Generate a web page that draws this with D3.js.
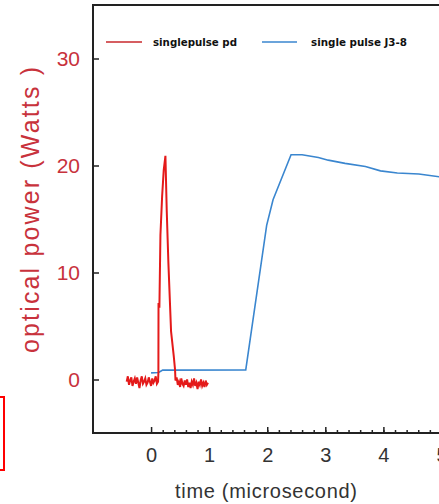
<!DOCTYPE html>
<html>
<head>
<meta charset="utf-8">
<script src="https://cdn.jsdelivr.net/npm/d3@7"></script>
<style>
  body { margin: 0; background: #fff; }
  svg { display: block; }
</style>
</head>
<body>
<div id="plot"></div>
<script>
/* data: [time (microsecond), optical power (W)] */
var pdSeries = [
  [-0.42,-0.2],[-0.40,0.3],[-0.38,-0.5],[-0.36,-0.1],[-0.34,0.2],[-0.32,-0.6],[-0.30,-0.2],
  [-0.28,0.1],[-0.26,-0.4],[-0.24,0.2],[-0.22,-0.3],[-0.20,-0.8],[-0.18,-0.1],[-0.16,0.3],
  [-0.14,-0.4],[-0.12,-0.2],[-0.10,0.1],[-0.08,-0.5],[-0.06,-0.3],[-0.04,0.2],[-0.02,-0.2],
  [0.00,-0.6],[0.02,0.1],[0.04,-0.3],[0.06,-0.1],[0.08,0.3],[0.10,-0.4],[0.12,-0.2],
  [0.126,0.6],[0.128,7.15],[0.143,6.7],[0.161,13.5],[0.19,17.1],[0.218,19.6],[0.247,20.9],
  [0.27,15.7],[0.298,10.9],[0.344,4.5],[0.39,2.2],[0.413,0.9],[0.42,-0.1],
  [0.44,0.2],[0.46,-0.5],[0.48,-0.2],[0.50,-0.7],[0.52,0.1],[0.54,-0.4],[0.56,-0.6],
  [0.58,-0.1],[0.60,-0.5],[0.62,0.0],[0.64,-0.7],[0.66,-0.3],[0.68,-0.8],[0.70,-0.2],
  [0.72,-0.5],[0.74,0.1],[0.76,-0.6],[0.78,-0.3],[0.80,-0.9],[0.82,-0.2],[0.84,-0.5],
  [0.86,0.0],[0.88,-0.6],[0.90,-0.3],[0.92,-0.7],[0.94,-0.1],[0.96,-0.5],[0.98,-0.3]
];
var j38Series = [
  [0.0,0.62],[0.13,0.65],[0.2,0.88],[1.63,0.9],[1.99,14.4],[2.1,16.8],[2.41,21.0],[2.6,21.0],
  [2.88,20.75],[3.05,20.5],[3.34,20.2],[3.69,19.9],[3.95,19.5],[4.24,19.3],[4.61,19.2],
  [4.96,18.95],[5.5,18.6],[6.0,18.3]
];
var seriesNames = ['singlepulse pd', 'single pulse J3-8'];
var yTicks = [0, 10, 20, 30];
var xTicks = [0, 1, 2, 3, 4, 5, 6];

var W = 439, H = 504;
var mLeft = 93, mTop = 5, mBottom = 433;

var x = d3.scaleLinear().domain([-1, 7]).range([mLeft, mLeft + 8 * 58.08]);
var y = d3.scaleLinear().domain([-5, 35]).range([mBottom, mTop]);

var svg = d3.select('#plot')
  .append('svg')
  .attr('width', W)
  .attr('height', H);

svg.append('defs').append('clipPath').attr('id', 'clip')
  .append('rect')
  .attr('x', mLeft).attr('y', mTop)
  .attr('width', x.range()[1] - mLeft).attr('height', mBottom - mTop);

// y axis
var yAxis = svg.append('g')
  .attr('transform', 'translate(' + mLeft + ',0)')
  .call(d3.axisLeft(y).tickValues(yTicks).tickSize(-6).tickPadding(13).tickSizeOuter(0));
yAxis.select('.domain').remove();
yAxis.selectAll('line').attr('stroke', '#222').attr('stroke-width', 1.5);
yAxis.selectAll('text')
  .style('font-family', 'Arial, "Liberation Sans", sans-serif')
  .style('font-size', '21px')
  .attr('fill', '#c8323c');

// x axis, major
var xAxis = svg.append('g')
  .attr('transform', 'translate(0,' + mBottom + ')')
  .call(d3.axisBottom(x).tickValues(xTicks).tickSize(-6).tickPadding(15).tickSizeOuter(0));
xAxis.select('.domain').remove();
xAxis.selectAll('line').attr('stroke', '#222').attr('stroke-width', 1.5);
xAxis.selectAll('text')
  .style('font-family', 'Arial, "Liberation Sans", sans-serif')
  .style('font-size', '20px')
  .attr('fill', '#333');

// x axis, minor (only from 0 onward)
var minor = svg.append('g')
  .attr('transform', 'translate(0,' + mBottom + ')')
  .call(d3.axisBottom(x).tickValues(d3.range(0.2, 7, 0.2)).tickSize(-3).tickFormat(''));
minor.select('.domain').remove();
minor.selectAll('line').attr('stroke', '#222').attr('stroke-width', 1.5);

// frame
svg.append('rect')
  .attr('x', mLeft).attr('y', mTop)
  .attr('width', x.range()[1] - mLeft).attr('height', mBottom - mTop)
  .attr('fill', 'none')
  .attr('stroke', '#222')
  .attr('stroke-width', 2);

var line = d3.line()
  .x(function (d) { return x(d[0]); })
  .y(function (d) { return y(d[1]); });

var lines = svg.append('g').attr('clip-path', 'url(#clip)');
lines.append('path')
  .datum(j38Series)
  .attr('d', line)
  .attr('fill', 'none')
  .attr('stroke', '#3a86cf')
  .attr('stroke-width', 1.6);
lines.append('path')
  .datum(pdSeries)
  .attr('d', line)
  .attr('fill', 'none')
  .attr('stroke', '#e41a1a')
  .attr('stroke-width', 2);

// legend
var legend = [
  {name: seriesNames[0], color: '#c8282d', x1: 106, x2: 142, tx: 153, tl: 84},
  {name: seriesNames[1], color: '#3a86cf', x1: 262, x2: 297, tx: 311, tl: 96}
];
legend.forEach(function (d) {
  svg.append('line')
    .attr('x1', d.x1).attr('x2', d.x2)
    .attr('y1', 42).attr('y2', 42)
    .attr('stroke', d.color).attr('stroke-width', 1.5);
  svg.append('text')
    .attr('x', d.tx).attr('y', 46)
    .attr('textLength', d.tl)
    .attr('lengthAdjust', 'spacingAndGlyphs')
    .style('font-family', '"DejaVu Sans", sans-serif')
    .style('font-size', '10px')
    .style('font-weight', 'bold')
    .attr('fill', '#111')
    .text(d.name);
});

// axis titles
svg.append('text')
  .attr('transform', 'translate(39,210) rotate(-90)')
  .attr('text-anchor', 'middle')
  .attr('textLength', 286)
  .attr('lengthAdjust', 'spacing')
  .style('font-family', 'Arial, "Liberation Sans", sans-serif')
  .style('font-size', '25px')
  .attr('fill', '#c8323c')
  .text('optical power (Watts )');

svg.append('text')
  .attr('x', 266).attr('y', 498)
  .attr('text-anchor', 'middle')
  .attr('textLength', 182)
  .attr('lengthAdjust', 'spacing')
  .style('font-family', 'Arial, "Liberation Sans", sans-serif')
  .style('font-size', '20px')
  .attr('fill', '#333')
  .text('time (microsecond)');

// red annotation box at the lower left
svg.append('rect')
  .attr('x', -10).attr('y', 397)
  .attr('width', 14).attr('height', 73)
  .attr('fill', 'none')
  .attr('stroke', '#ff0000')
  .attr('stroke-width', 2);
</script>
</body>
</html>
